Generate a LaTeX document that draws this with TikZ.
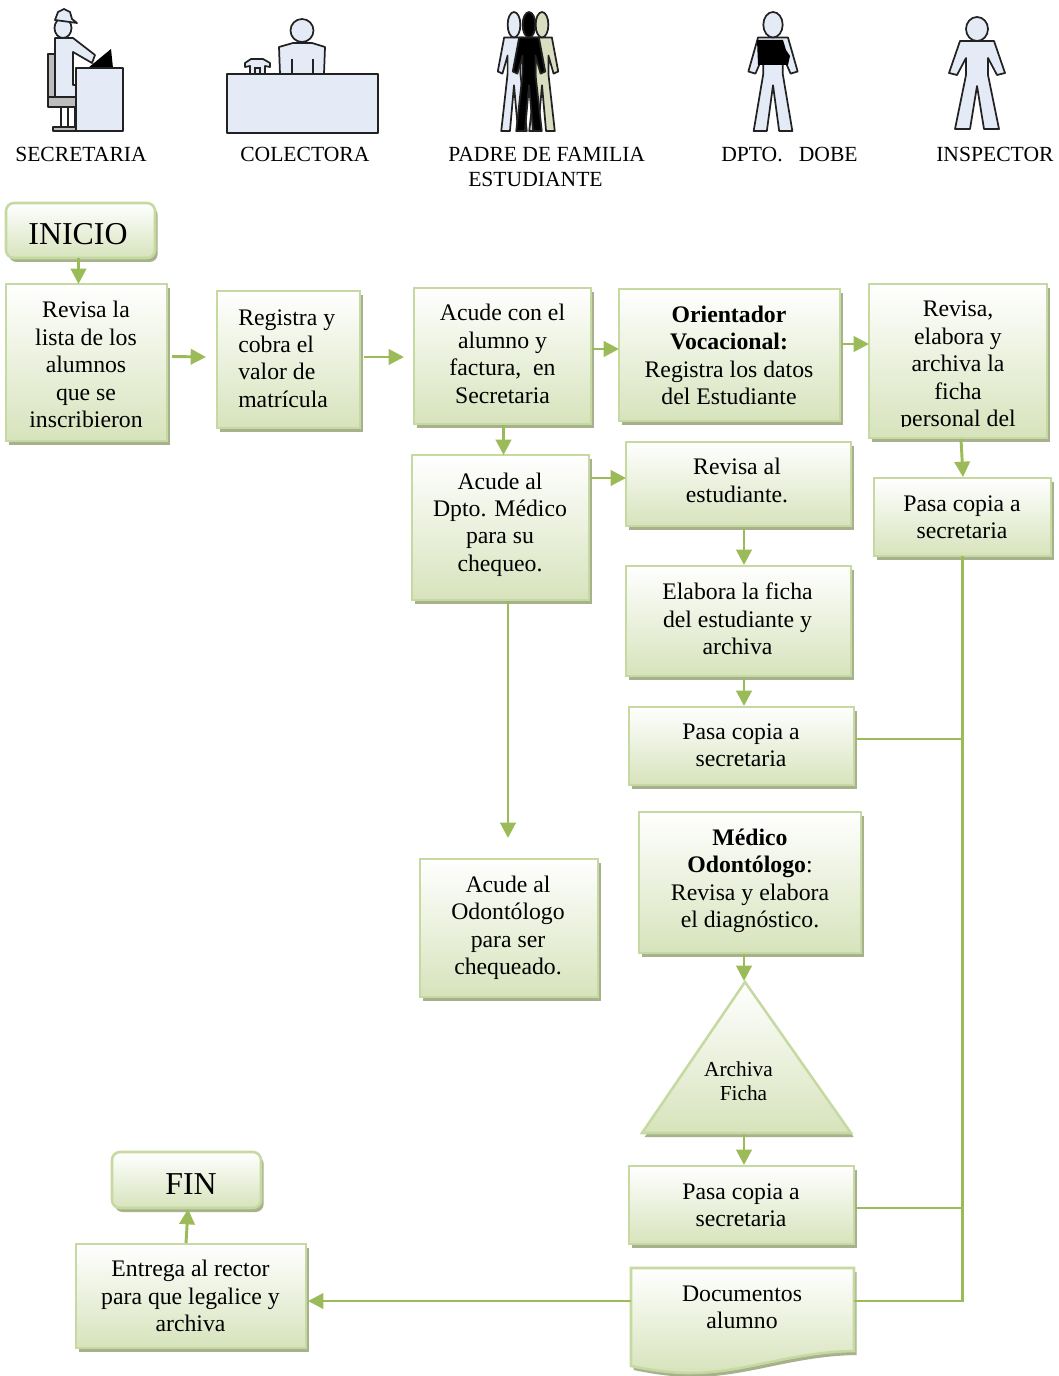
\documentclass[tikz,border=0pt]{standalone}
\usepackage{fontspec}
\setmainfont{Liberation Serif}
\usetikzlibrary{shadows,arrows.meta,calc}
\definecolor{bdr}{HTML}{C5D9A1}
\definecolor{lnk}{HTML}{9BBB59}
\definecolor{shd}{HTML}{A8B18E}
\definecolor{botg}{HTML}{D7E3BC}
\definecolor{icon}{HTML}{E4EBF6}
\definecolor{ink}{HTML}{222222}
\definecolor{khaki}{HTML}{DADDC0}
\definecolor{chairg}{HTML}{BDBDBD}
\tikzset{
 x=0.75pt,y=-0.75pt,
 shaded/.style={top color=white,bottom color=botg,draw=bdr,line width=1.9pt,line join=miter,
   general shadow={fill=shd,shadow xshift=2pt,shadow yshift=-3pt}},
 flow/.style={shaded,inner sep=0pt,outer sep=0pt,rectangle},
 flowround/.style={flow,rounded corners=6pt},
 flowtxt/.style={inner sep=0pt,align=center,font=\fontsize{17.8}{20.6}\selectfont,text=black},
 lbl/.style={inner sep=0pt,anchor=base west,font=\fontsize{16.2}{18}\selectfont,text=black},
 arr/.style={draw=lnk,line width=2.2pt,-{Triangle[length=11.5pt,width=11.5pt,fill=lnk]}},
 lnkline/.style={draw=lnk,line width=1.7pt},
 ic/.style={fill=icon,draw=ink,line width=1.3pt,line join=round},
}
\newcommand\flowbox[6][flow]{\node[#1,minimum width={(#5-#3)*0.75pt},minimum height={(#6-#4)*0.75pt}] (#2) at ({(#3+#5)/2},{(#4+#6)/2}) {};}
\newcommand\flowtext[4]{\node[flowtxt] (#1) at (#2,#3) {#4};}
% cx, y offset, xscale, yscale, fill
\newcommand\personfig[5]{%
 \begin{scope}[shift={(#1,#2)},xscale=#3,yscale=#4]
 \path[ic,fill=#5] (-17,40) -- (-28,72) -- (-20,74) -- (-11,57) -- (-11,74) -- (-22,128) -- (-7,128) -- (0,85) -- (7,128) -- (22,128) -- (11,74) -- (11,57) -- (20,74) -- (28,72) -- (17,40) -- cycle;
 \path[ic,fill=#5] (0,28) ellipse [x radius=11,y radius=12];
 \end{scope}}
\begin{document}
\begin{tikzpicture}
\useasboundingbox (0,0) rectangle (1058,1376);
% --- icons
% secretaria
\path[ic,fill=chairg] (48,54) rectangle (56,98);
\path[ic,fill=chairg] (48,97) rectangle (76,107);
\path[ic,fill=white] (61,107) rectangle (75,127);
\draw[ink,line width=0.9pt] (68,107) -- (68,127);
\path[ic,fill=chairg] (53,127) rectangle (76,131);
\path[ic] (55,38) -- (73,38) -- (95,55) -- (92,63) -- (73,52) -- (73,85) -- (76,85) -- (76,97) -- (55,97) -- cycle;
\path[ic] (63,28) ellipse [x radius=8.5,y radius=10];
\path[ic] (55,20) -- (58,12) -- (64,9) -- (70,12) -- (72,19) -- (77,23) -- cycle;
\fill[black] (88,68) -- (111,49) -- (113,68) -- cycle;
\path[ic] (76,68) rectangle (123,131);
% colectora
\path[ic] (280,74) -- (279,47) -- (293,43) -- (312,43) -- (325,47) -- (324,74) -- cycle;
\draw[ink,line width=1pt] (292,59) -- (292,74) (313,59) -- (313,74);
\path[ic] (302,30.5) circle [radius=11.5];
\path[ic] (250,74) -- (250,66) -- (245,67) -- (245,63) -- (251,59) -- (263,59) -- (270,63) -- (270,67) -- (265,66) -- (265,74) -- cycle;
\draw[ink,line width=1pt] (255,74) rectangle (260,68);
\path[ic] (227,74) rectangle (378,133);
% padre, estudiante
\personfig{514}{-5}{0.58}{1.0625}{icon}
\personfig{542}{-5}{0.58}{1.0625}{khaki}
\personfig{529}{-5}{0.58}{1.0625}{black}
% dobe
\personfig{773}{-5}{0.88}{1.0625}{icon}
\fill[black] (757,40) -- (783,40) -- (786,50) -- (790,56) -- (788,65) -- (758,65) -- cycle;
% inspector
\personfig{977}{1}{1}{1}{icon}
% --- labels
\node[lbl] (l1) at (15,162) {SECRETARIA};
\node[lbl] (l2) at (240,162) {COLECTORA};
\node[lbl] (l3) at (448,162) {PADRE DE FAMILIA};
\node[lbl] (l3b) at (468,187) {ESTUDIANTE};
\node[lbl] (l4) at (721,162) {DPTO.~~~DOBE};
\node[lbl] (l5) at (936,162) {INSPECTOR};
% --- boxes
\flowbox[flowround]{ini}{6}{203}{155}{258}
\flowbox{rev}{6}{284}{167}{441}
\flowbox{reg}{217}{291}{360}{428}
\flowbox{acu}{414}{288}{591}{424}
\flowbox{ori}{619}{289}{840}{421}
\flowbox{ins}{869}{284}{1047}{438}
\flowbox{dpt}{412}{455}{589}{600}
\flowbox{ral}{626}{442}{851}{526}
\flowbox{ela}{626}{566}{851}{676}
\flowbox{pa1}{629}{707}{854}{785}
\flowbox{pa0}{874}{478}{1051}{556}
\flowbox{odo}{420}{859}{598}{997}
\flowbox{med}{639}{812}{861}{953}
\flowbox{pa2}{629}{1166}{854}{1244}
\flowbox{ent}{76}{1244}{306}{1348}
\flowbox[flowround]{fin}{112}{1152}{261}{1208}
% triangle
\coordinate (tritop) at (745,982);
\coordinate (trib) at (745,1133);
\path[shaded,line join=miter] (tritop) -- (851,1133) -- (642,1133) -- cycle;
% document
\coordinate (doce) at (854,1301);
\coordinate (docw) at (631,1301);
\path[shaded] (631,1268) -- (854,1268) -- (854,1351) .. controls (790,1352) and (745,1373) .. (690,1373) .. controls (670,1373) and (650,1370) .. (631,1366) -- cycle;
% --- box text
\node[inner sep=0pt,font=\fontsize{23.9}{28}\selectfont] (tini) at (78,234) {INICIO};
\node[inner sep=0pt,font=\fontsize{23.9}{28}\selectfont] (tfin) at (191,1184) {FIN};
\flowtext{trev}{86}{364.5}{Revisa la\\lista de los\\alumnos\\que se\\inscribieron}
\node[flowtxt,align=left,anchor=west] (treg) at (238,358.5) {Registra y\\cobra el\\valor de\\matrícula};
\flowtext{tacu}{502.5}{354}{Acude con el\\alumno y\\factura,~ en\\Secretaria}
\flowtext{tori}{729}{355.5}{\textbf{Orientador}\\\textbf{Vocacional:}\\Registra los datos\\del Estudiante}
\begin{scope}
\clip (869,284) rectangle (1047,426.5);
\flowtext{tins}{958}{366.5}{Revisa,\\elabora y\\archiva la\\ficha\\personal del}
\end{scope}
\flowtext{tdpt}{500}{524.5}{Acude al\\Dpto. Médico\\para su\\chequeo.}
\flowtext{tral}{737}{480.5}{Revisa al\\estudiante.}
\flowtext{tela}{737.5}{619}{Elabora la ficha\\del estudiante y\\archiva}
\flowtext{tpa1}{741}{745.5}{Pasa copia a\\secretaria}
\flowtext{tpa0}{962}{517}{Pasa copia a\\secretaria}
\flowtext{todo}{508}{928}{Acude al\\Odontólogo\\para ser\\chequeado.}
\flowtext{tmed}{750}{881}{\textbf{Médico}\\\textbf{Odontólogo}:\\Revisa y elabora\\el diagnóstico.}
\node[flowtxt,font=\fontsize{16}{18}\selectfont] (ttri) at (743.5,1081) {Archiva\hspace*{7.5pt}\\Ficha};
\flowtext{tpa2}{741}{1205}{Pasa copia a\\secretaria}
\flowtext{tdoc}{742}{1307.5}{Documentos\\alumno}
\flowtext{tent}{190.5}{1296}{Entrega al rector\\para que legalice y\\archiva}
% --- connectors
\draw[arr] ([xshift=-1.5pt]ini.south) -- ([xshift=-1.5pt]ini.south |- rev.north);
\draw[arr] ([shift={(5,-6)}]rev.east) -- ([shift={(-11,-2.5)}]reg.west);
\draw[arr] ([shift={(4,-2.5)}]reg.east) -- ([shift={(-10,1)}]acu.west);
\draw[arr] ([shift={(1,-7)}]acu.east) -- ([shift={(0,-6)}]ori.west);
\draw[arr] ([shift={(1,-11)}]ori.east) -- ([shift={(0,-17)}]ins.west);
\draw[arr] ([shift={(1,1)}]acu.south) -- ([shift={(3,0)}]dpt.north);
\draw[arr] ([shift={(1,-49.5)}]dpt.east) -- ([shift={(0,-6)}]ral.west);
\draw[arr] ([shift={(5.5,1)}]ral.south) -- ([shift={(5.5,-1)}]ela.north);
\draw[arr] ([shift={(5.5,1)}]ela.south) -- ([shift={(2.5,-1)}]pa1.north);
\draw[arr] ([shift={(3,1)}]ins.south) -- ([shift={(0.5,-1)}]pa0.north);
\draw[arr] ([shift={(7.5,1)}]dpt.south) -- ([shift={(-1,-21)}]odo.north);
\draw[arr] ([shift={(-6,1)}]med.south) -- ([shift={(-1,-1)}]tritop);
\draw[arr] ([shift={(-1,1)}]trib) -- ([shift={(2.5,-1)}]pa2.north);
\draw[arr] (docw) -- ([shift={(2,5)}]ent.east);
\draw[arr] ([shift={(-5,-1)}]ent.north) -- ([shift={(1.5,1)}]fin.south);
\coordinate (j1) at (962.5,739);
\coordinate (j2) at (962.5,1208);
\draw[lnkline] (pa0.south) -- (pa0.south |- doce) -- (doce);
\draw[lnkline] ([shift={(2,-7)}]pa1.east) -- (j1);
\draw[lnkline] ([shift={(2,3)}]pa2.east) -- (j2);
\end{tikzpicture}
\end{document}
